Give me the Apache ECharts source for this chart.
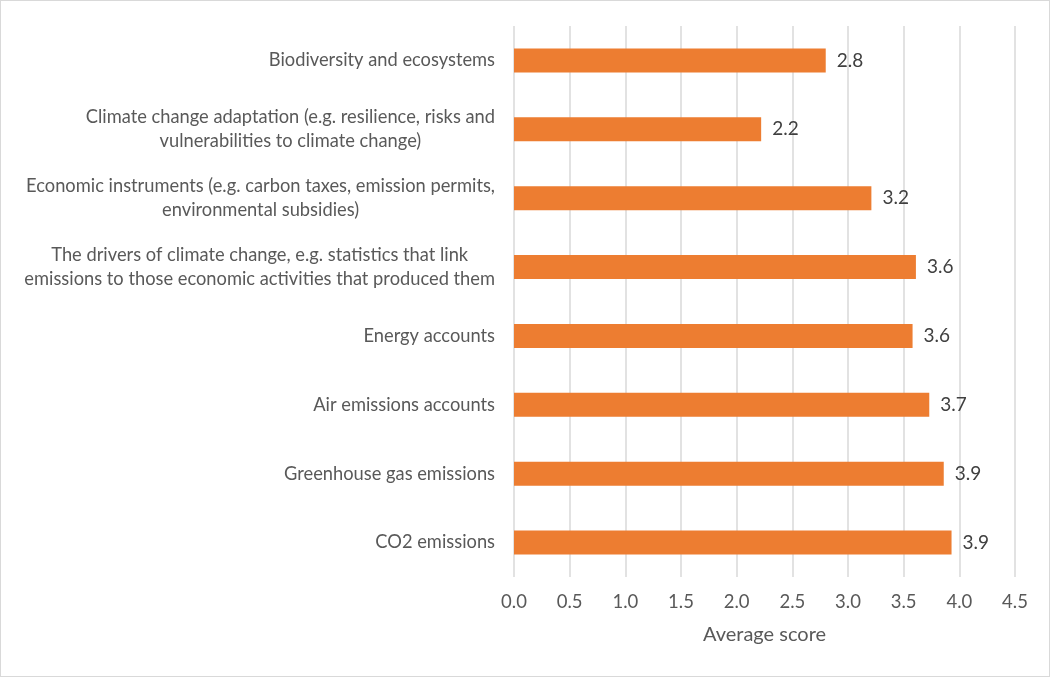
<!DOCTYPE html>
<html>
<head>
<meta charset="utf-8">
<title>Average score</title>
<script src="https://cdn.jsdelivr.net/npm/echarts@6/dist/echarts.min.js"></script>
<style>
  html, body { margin: 0; padding: 0; background: #fff; }
  #chart { width: 1048px; height: 675px; border: 1px solid #d9d9d9; }
</style>
</head>
<body>
<div id="chart"></div>
<script>
// topics, listed top to bottom as in the picture
var topics = [
  'Biodiversity and ecosystems',
  'Climate change adaptation (e.g. resilience, risks and\nvulnerabilities to climate change)',
  'Economic instruments (e.g. carbon taxes, emission permits,\nenvironmental subsidies)',
  'The drivers of climate change, e.g. statistics that link\nemissions to those economic activities that produced them',
  'Energy accounts',
  'Air emissions accounts',
  'Greenhouse gas emissions',
  'CO2 emissions'
];
var scores = [2.80, 2.22, 3.21, 3.61, 3.58, 3.73, 3.86, 3.93];

var axisMin = 0;
var axisMax = 4.5;
var axisStep = 0.5;

var font = 'Lato, "Open Sans", sans-serif';
var grey = '#595959';

var chart = echarts.init(document.getElementById('chart'));

var option = {
  animation: false,
  grid: {
    left: 513,
    right: 34,
    top: 25,
    bottom: 99
  },
  xAxis: {
    type: 'value',
    min: axisMin,
    max: axisMax,
    interval: axisStep,
    name: 'Average score',
    nameLocation: 'middle',
    nameGap: 48,
    nameTextStyle: { color: grey, fontSize: 20, fontFamily: font },
    axisLine: { show: false },
    axisTick: { show: false },
    axisLabel: {
      color: grey,
      fontSize: 18.5,
      fontFamily: font,
      margin: 16,
      formatter: function (v) { return v.toFixed(1); }
    },
    splitLine: { show: true, lineStyle: { color: '#d9d9d9', width: 1.5 } }
  },
  yAxis: {
    type: 'category',
    inverse: true,
    data: topics,
    axisLine: { show: false },
    axisTick: { show: false },
    axisLabel: {
      interval: 0,
      margin: 19,
      color: grey,
      fontSize: 18.3,
      fontFamily: font,
      lineHeight: 24,
      // each line centred inside the label block, like Excel does
      formatter: function (v) {
        return v.split('\n').map(function (l) { return '{c|' + l + '}'; }).join('\n');
      },
      rich: {
        c: { align: 'center', color: grey, fontSize: 18.3, fontFamily: font, lineHeight: 24 }
      }
    }
  },
  series: [{
    type: 'bar',
    data: scores,
    barWidth: 24,
    itemStyle: { color: '#ED7D31' },
    label: {
      show: true,
      position: 'right',
      distance: 11,
      color: '#404040',
      fontSize: 19,
      fontFamily: font,
      formatter: function (p) { return p.value.toFixed(1); }
    }
  }]
};

chart.setOption(option);
</script>
</body>
</html>
